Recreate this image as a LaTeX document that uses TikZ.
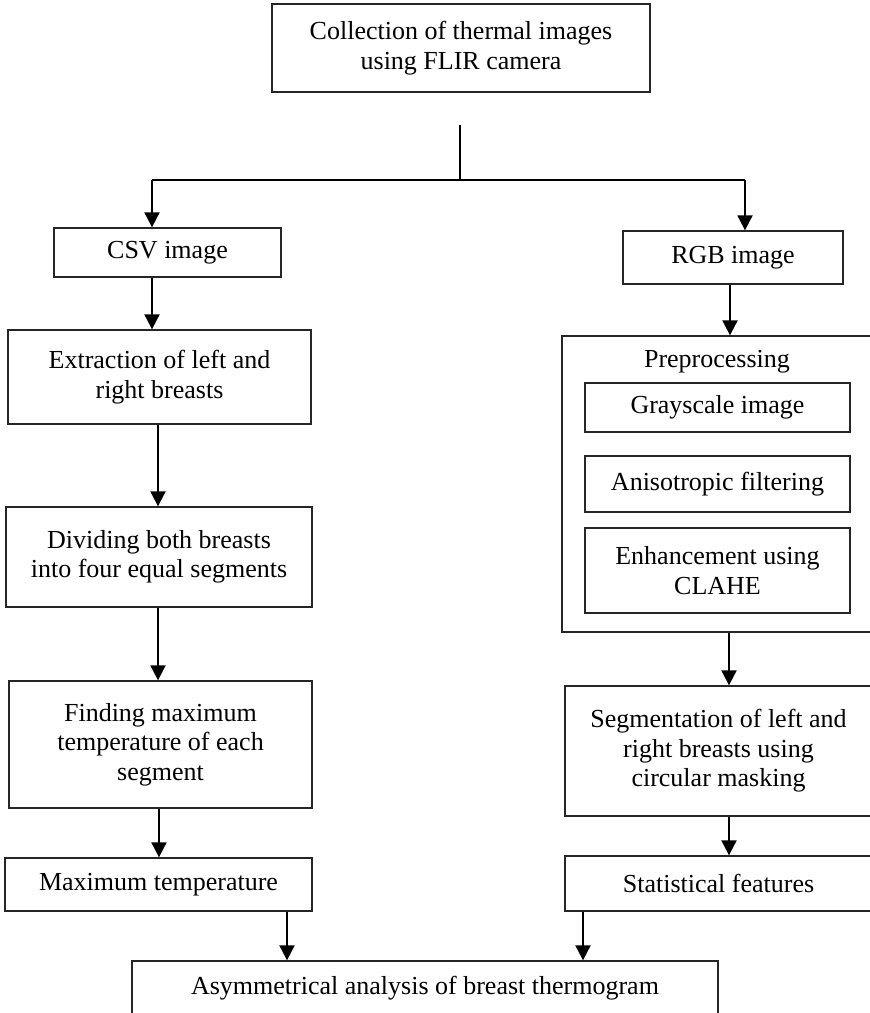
\documentclass[tikz,border=0pt]{standalone}
\usepackage{fontspec}
\setmainfont{Liberation Serif}
\usetikzlibrary{arrows.meta}
\begin{document}
\begin{tikzpicture}[x=1pt,y=-1pt,
  box/.style={draw=black!85, line width=1.3pt, inner sep=0pt, align=center,
    font=\fontsize{26}{29.5}\selectfont},
  flow/.style={line width=1.9pt, -{Triangle[length=15pt,width=15pt]}},
  plain/.style={line width=1.9pt}]
\useasboundingbox (0,0) rectangle (870,1013);
\clip (0,0) rectangle (870,1013);

% acquisition
\node[box, minimum width=378pt, minimum height=88pt] (top) at (461,48)
  {Collection of thermal images\\using FLIR camera};

% left branch: temperature data
\node[box, minimum width=227pt, minimum height=49pt] (csv) at (167.5,252.5) {CSV image};
\node[box, minimum width=303pt, minimum height=94pt] (ext) at (159.5,377)
  {Extraction of left and\\right breasts};
\node[box, minimum width=306pt, minimum height=100pt] (div) at (159,557)
  {Dividing both breasts\\into four equal segments};
\node[box, minimum width=303pt, minimum height=127pt] (find) at (160.5,744.5)
  {Finding maximum\\temperature of each\\segment};
\node[box, minimum width=307pt, minimum height=53pt] (maxt) at (158.5,884.5)
  {Maximum temperature};

% right branch: image data
\node[box, minimum width=220pt, minimum height=53pt] (rgb) at (733,257.5) {RGB image};
\node[box, minimum width=310pt, minimum height=296pt] (pre) at (717,484) {};
\node[font=\fontsize{26}{29.5}\selectfont, inner sep=0pt] (prelabel) at (717,362) {Preprocessing};
\node[box, minimum width=265pt, minimum height=49pt] (gray) at (717.5,407.5) {Grayscale image};
\node[box, minimum width=265pt, minimum height=56pt] (aniso) at (717.5,484) {Anisotropic filtering};
\node[box, minimum width=265pt, minimum height=85pt] (enh) at (717.5,570.5)
  {Enhancement using\\CLAHE};
\node[box, minimum width=307pt, minimum height=130pt] (seg) at (718.5,751)
  {Segmentation of left and\\right breasts using\\circular masking};
\node[box, minimum width=307pt, minimum height=55pt] (stat) at (718.5,883.5)
  {Statistical features};

% result
\node[box, minimum width=586pt, minimum height=58pt] (asym) at (425,990) {};
\node[font=\fontsize{26}{29.5}\selectfont, inner sep=0pt] (asymtext) at (425,988)
  {Asymmetrical analysis of breast thermogram};

% split below acquisition
\coordinate (stem) at (460,125);
\coordinate (split) at (460,180);
\coordinate (lft) at (152,180);
\coordinate (rgt) at (745,180);
\draw[plain] (stem) -- (split);
\draw[plain] (lft) -- (rgt);
\draw[flow] (lft) -- (lft |- csv.north);
\draw[flow] (rgt) -- (rgt |- rgb.north);

% left chain
\draw[flow] (csv.south -| lft) -- (lft |- ext.north);
\draw[flow] ([xshift=-1.5pt]ext.south) -- ([xshift=-1.5pt]ext.south |- div.north);
\draw[flow] ([xshift=-1pt]div.south) -- ([xshift=-1pt]div.south |- find.north);
\draw[flow] ([xshift=-1.5pt]find.south) -- ([xshift=-1.5pt]find.south |- maxt.north);
\draw[flow] ([xshift=128.5pt]maxt.south) -- ([xshift=128.5pt]maxt.south |- asym.north);

% right chain
\draw[flow] ([xshift=-3pt]rgb.south) -- ([xshift=-3pt]rgb.south |- pre.north);
\draw[flow] ([xshift=12pt]pre.south) -- ([xshift=12pt]pre.south |- seg.north);
\draw[flow] ([xshift=10.5pt]seg.south) -- ([xshift=10.5pt]seg.south |- stat.north);
\draw[flow] ([xshift=-135.5pt]stat.south) -- ([xshift=-135.5pt]stat.south |- asym.north);
\end{tikzpicture}
\end{document}
